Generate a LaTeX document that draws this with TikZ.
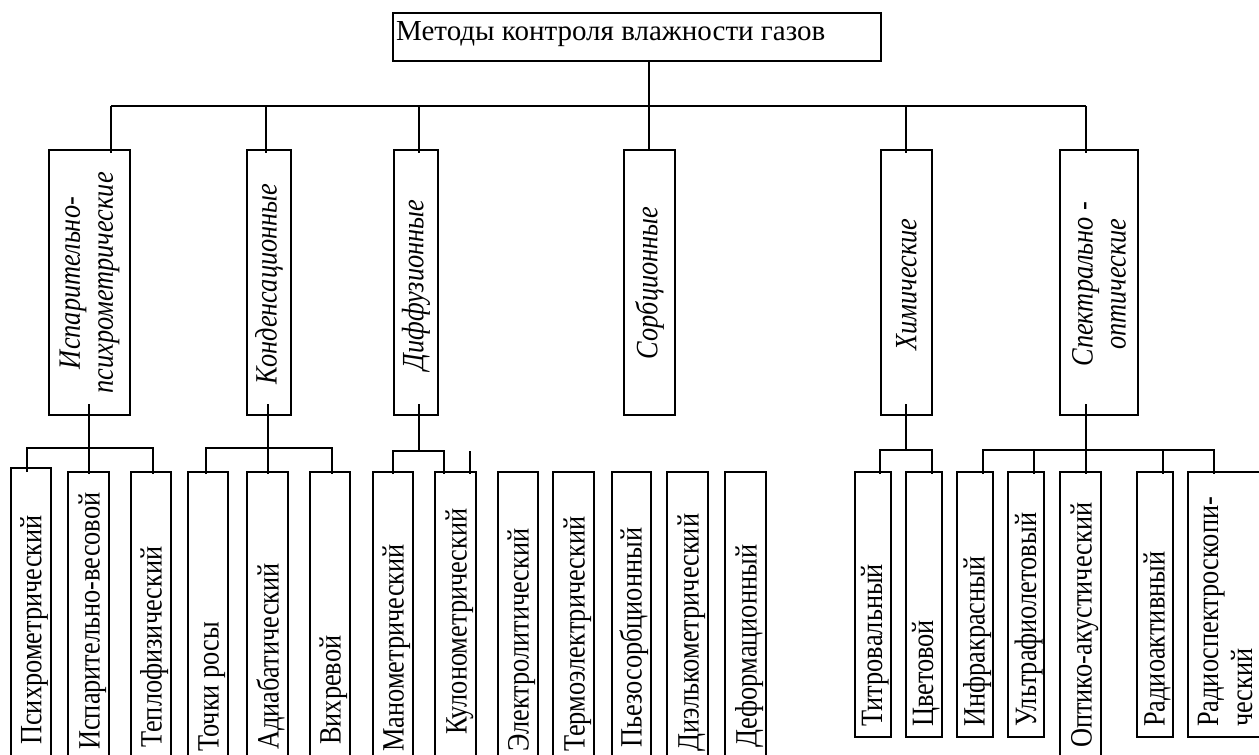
\documentclass[tikz,border=0pt]{standalone}
\usepackage{fontspec}
\setmainfont{Liberation Serif}
\newfontfamily\lblfont[FakeStretch=0.85]{Liberation Serif}
\usetikzlibrary{calc}

\tikzset{
  wire/.style={line width=1.5pt},
  frame/.style={draw, line width=1.5pt, inner sep=0pt, outer sep=0pt, anchor=north west},
  item/.style={rotate=90, inner sep=0pt, anchor=base west,
    font=\lblfont\fontsize{31}{34}\selectfont},
  group/.style={rotate=90, inner sep=0pt, align=center, anchor=center,
    font=\lblfont\itshape\fontsize{31}{33}\selectfont},
  title/.style={inner sep=0pt, anchor=base west, font=\fontsize{29}{31}\selectfont},
}
% \boxnode{name}{left}{right}{top}{bottom}
\newcommand\boxnode[5]{\node[frame, minimum width={#3pt-#2pt}, minimum height={#5pt-#4pt}] (#1) at (#2,#4) {};}

\begin{document}
\begin{tikzpicture}[x=1pt, y=-1pt]
\useasboundingbox (0,0) rectangle (1259,755);
\clip (0,0) rectangle (1259,755);

% root
\boxnode{top}{393}{881}{13}{61}
\node[title] (toptxt) at (396,40) {Методы контроля влажности газов};

% groups of methods
\boxnode{c1}{49}{130}{150}{415}
\boxnode{c2}{247}{291}{150}{415}
\boxnode{c3}{394}{438}{150}{415}
\boxnode{c4}{624}{675}{150}{415}
\boxnode{c5}{881}{932}{150}{415}
\boxnode{c6}{1060}{1138}{150}{415}
\node[group] (g1) at (89.5,283) {Испарительно-\\психрометрические};
\node[group] (g2) at (269,284) {Конденсационные};
\node[group] (g3) at (416,285) {Диффузионные};
\node[group] (g4) at (649.5,283) {Сорбционные};
\node[group] (g5) at (906.5,284.5) {Химические};
\node[group] (g6) at (1099,284) {Спектрально -\\оптические};

% individual methods
\boxnode{psy}{11}{51}{468}{775}
\boxnode{isp}{68}{109}{472}{775}
\boxnode{tep}{131}{171}{472}{775}
\boxnode{toc}{188}{228}{472}{775}
\boxnode{adi}{247}{288}{472}{775}
\boxnode{vih}{310}{350}{472}{775}
\boxnode{man}{373}{413}{472}{775}
\boxnode{kul}{435}{476}{472}{775}
\boxnode{ele}{498}{538}{472}{775}
\boxnode{ter}{553}{594}{472}{775}
\boxnode{pie}{612}{651}{472}{775}
\boxnode{die}{667}{708}{472}{775}
\boxnode{def}{725}{766}{472}{775}
\boxnode{tit}{855}{891}{472}{737}
\boxnode{cve}{906}{942}{472}{737}
\boxnode{ifr}{957}{993}{472}{737}
\boxnode{ufl}{1008}{1044}{472}{737}
\boxnode{opt}{1060}{1101}{472}{775}
\boxnode{rad}{1137}{1173}{472}{737}
\boxnode{rsp}{1188}{1268}{472}{737}

\node[item] (tpsy) at (41.5,745) {Психрометрический};
\node[item] (tisp) at (99.5,750) {Испарительно-весовой};
\node[item] (ttep) at (161.5,748) {Теплофизический};
\node[item] (ttoc) at (218.5,752) {Точки росы};
\node[item] (tadi) at (278.5,750) {Адиабатический};
\node[item] (tvih) at (340.5,745) {Вихревой};
\node[item] (tman) at (403.5,752) {Манометрический};
\node[item] (tkul) at (466.5,735) {Кулонометрический};
\node[item] (tele) at (528.5,752) {Электролитический};
\node[item] (tter) at (584.5,752) {Термоэлектрический};
\node[item] (tpie) at (641.5,748) {Пьезосорбционный};
\node[item] (tdie) at (698.5,752) {Диэлькометрический};
\node[item] (tdef) at (756.5,748) {Деформационный};
\node[item] (ttit) at (882,727) {Титровальный};
\node[item] (tcve) at (933,727) {Цветовой};
\node[item] (tifr) at (984.5,727) {Инфракрасный};
\node[item] (tufl) at (1036,727) {Ультрафиолетовый};
\node[item] (topt) at (1091.5,748) {Оптико-акустический};
\node[item] (trad) at (1164.5,727) {Радиоактивный};
\node[item] (trsp1) at (1218,727) {Радиоспектроскопи-};
\node[item] (trsp2) at (1252,727) {ческий};

% root to groups
\coordinate (j1) at (111,106);
\coordinate (j2) at (266,106);
\coordinate (j3) at (419,106);
\coordinate (j4) at (649,106);
\coordinate (j5) at (906,106);
\coordinate (j6) at (1086,106);
\draw[wire] (top.south -| j4) -- (j4 |- c4.north);
\draw[wire] (j1) -- (j6);
\foreach \j/\c in {j1/c1, j2/c2, j3/c3, j5/c5, j6/c6}
  \draw[wire] (\j) -- ($(\j |- \c.north)+(0,3)$);

% evaporative-psychrometric branch
\coordinate (k1) at (89,448);
\coordinate (k1a) at (27,448);
\coordinate (k1b) at (153,448);
\draw[wire] ($(c1.south -| k1)+(0,-11)$) -- ($(k1 |- isp.north)+(0,2)$);
\draw[wire] ($(k1a |- psy.north)+(0,4)$) -- (k1a) -- (k1b) -- ($(k1b |- tep.north)+(0,2)$);

% condensation branch
\coordinate (k2) at (268,448);
\coordinate (k2a) at (206,448);
\coordinate (k2b) at (332,448);
\draw[wire] ($(c2.south -| k2)+(0,-11)$) -- ($(k2 |- adi.north)+(0,2)$);
\draw[wire] ($(k2a |- toc.north)+(0,2)$) -- (k2a) -- (k2b) -- ($(k2b |- vih.north)+(0,2)$);

% diffusion branch
\coordinate (k3) at (419,451);
\coordinate (k3a) at (393,451);
\coordinate (k3b) at (444,451);
\coordinate (k3c) at (470,451);
\draw[wire] ($(c3.south -| k3)+(0,-11)$) -- (k3);
\draw[wire] ($(k3a |- man.north)+(0,2)$) -- (k3a) -- (k3b) -- ($(k3b |- kul.north)+(0,2)$);
\draw[wire] (k3c) -- ($(k3c |- kul.north)+(0,2)$);

% chemical branch
\coordinate (k5) at (906,450);
\coordinate (k5a) at (880,450);
\coordinate (k5b) at (932,450);
\draw[wire] ($(c5.south -| k5)+(0,-11)$) -- (k5);
\draw[wire] ($(k5a |- tit.north)+(0,2)$) -- (k5a) -- (k5b) -- ($(k5b |- cve.north)+(0,2)$);

% spectral-optical branch
\coordinate (k6) at (1086,450);
\coordinate (k6a) at (983,450);
\coordinate (k6b) at (1034,450);
\coordinate (k6c) at (1163,450);
\coordinate (k6d) at (1214,450);
\draw[wire] ($(c6.south -| k6)+(0,-11)$) -- ($(k6 |- opt.north)+(0,2)$);
\draw[wire] ($(k6a |- ifr.north)+(0,2)$) -- (k6a) -- (k6d) -- ($(k6d |- rsp.north)+(0,2)$);
\draw[wire] (k6b) -- ($(k6b |- ufl.north)+(0,2)$);
\draw[wire] (k6c) -- ($(k6c |- rad.north)+(0,2)$);
\end{tikzpicture}
\end{document}
